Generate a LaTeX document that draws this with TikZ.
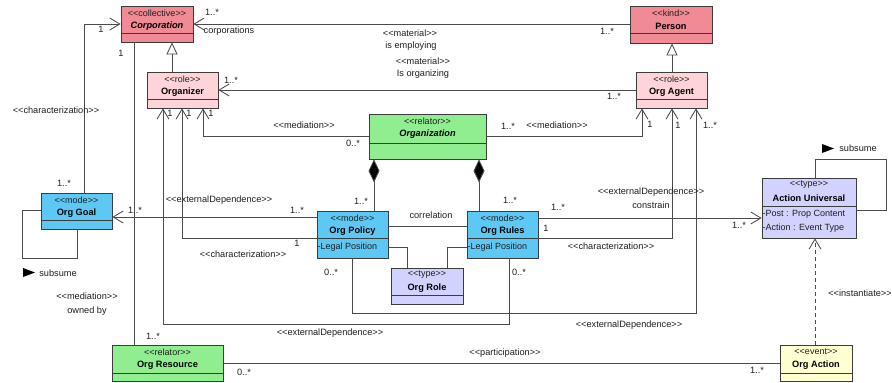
\documentclass[tikz,border=0pt]{standalone}
\usepackage{fontspec}
\newfontfamily\lib{Liberation Sans}
\usetikzlibrary{arrows.meta,fit}
\definecolor{salmonc}{RGB}{240,138,148}
\definecolor{pinkc}{RGB}{255,212,217}
\definecolor{greenc}{RGB}{144,238,144}
\definecolor{bluec}{RGB}{94,200,245}
\definecolor{lavc}{RGB}{210,210,255}
\definecolor{yellowc}{RGB}{255,255,210}
\definecolor{boxc}{RGB}{60,60,60}
\definecolor{linec}{RGB}{75,75,75}
\definecolor{txtc}{RGB}{30,30,30}
\newcommand\umlcls[9]{%
  \node[box, fill=#7, fit={(#2,#3)(#4,#5)}] (#1) {};
  \draw[box] (#1.west |- 0,#6) -- (#1.east |- 0,#6);
  \node[stt] (#1-st) at ({(#2+#4)/2},{#3+7}) {#8};
  \node[nmm] (#1-nm) at ({(#2+#4)/2},{#3+20}) {#9};
}
\begin{document}
\begin{tikzpicture}[x=1pt,y=-1pt,
  box/.style={draw=boxc, line width=0.8pt, inner sep=0pt},
  stt/.style={font=\lib\fontsize{9}{10}\selectfont, inner sep=0pt, text=txtc},
  nmm/.style={font=\lib\fontsize{9.2}{10}\selectfont\bfseries, inner sep=0pt, text=black},
  lbl/.style={font=\lib\fontsize{9.2}{10}\selectfont, inner sep=0pt, text=txtc},
  attr/.style={font=\lib\fontsize{9}{10}\selectfont, inner sep=0pt, anchor=west, text=txtc},
  conn/.style={draw=linec, line width=0.85pt},
  opn/.style={conn, -{Straight Barb[length=10pt,width=12pt]}},
  gen/.style={conn, -{Triangle[open,length=12pt,width=11pt,fill=white]}},
  comp/.style={conn, {Diamond[length=23pt,width=11pt,fill=black]}-},
]
\useasboundingbox (0,0) rectangle (892,383);

% classes
\umlcls{corp}{121}{6}{193}{42}{33}{salmonc}{<<collective>>}{\itshape Corporation}
\umlcls{person}{630}{6}{712}{43}{33}{salmonc}{<<kind>>}{Person}
\umlcls{organizer}{147}{72}{218}{108}{99}{pinkc}{<<role>>}{Organizer}
\umlcls{agent}{636}{72}{707}{108}{99}{pinkc}{<<role>>}{Org Agent}
\umlcls{organization}{369}{114}{486}{159}{143}{greenc}{<<relator>>}{\itshape Organization}
\umlcls{goal}{41}{193}{112}{229}{220}{bluec}{<<mode>>}{Org Goal}
\umlcls{policy}{317}{211}{388}{258}{238}{bluec}{<<mode>>}{Org Policy}
\umlcls{rules}{467}{211}{538}{258}{238}{bluec}{<<mode>>}{Org Rules}
\umlcls{role}{391}{268}{463}{304}{295}{lavc}{<<type>>}{Org Role}
\umlcls{actuniv}{762}{178}{856}{238}{206}{lavc}{<<type>>}{Action Universal}
\umlcls{resource}{112}{345}{223}{381}{373}{greenc}{<<relator>>}{Org Resource}
\umlcls{action}{780}{345}{852}{381}{373}{yellowc}{<<event>>}{Org Action}

\node[attr] (polattr) at (317.5,247) {-Legal Position};
\node[attr] (rulattr) at (467.5,247) {-Legal Position};
\node[attr] (au1) at (762.5,214) {-Post : Prop Content};
\node[attr] (au2) at (762.5,228) {-Action : Event Type};

% connectors
\draw[opn] (person.west |- corp.east) -- (corp.east);
\draw[opn] (agent.west) -- (agent.west -| organizer.east);
\draw[gen] (organizer.north -| 172,0) -- (corp.south -| 172,0);
\draw[gen] (agent.north -| 672,0) -- (person.south -| 672,0);
\draw[opn] (goal.north -| 84,0) |- (corp.west);
\draw[conn] (corp.south -| 134,0) -- (resource.north -| 134,0);
\draw[opn] (organization.west) -| (organizer.south -| 203,0);
\draw[opn] (policy.west |- 0,238) -| (organizer.south -| 182,0);
\draw[opn] (rules.south -| 509,0) -- ++(0,66) -| (organizer.south -| 163,0);
\draw[opn] (policy.south -| 352,0) -- ++(0,55) -| (agent.south -| 696,0);
\draw[opn] (organization.east) -| (agent.south -| 642,0);
\draw[opn] (rules.east |- 0,238) -| (agent.south -| 672,0);
\draw[opn] (rules.east |- 0,218) -- (actuniv.west |- 0,218);
\draw[comp] (organization.south -| 374,0) -- (policy.north -| 374,0);
\draw[comp] (organization.south -| 479,0) -- (rules.north -| 479,0);
\draw[opn] (policy.west |- 0,217) -- (goal.east |- 0,217);
\draw[conn] (policy.east |- 0,226) -- (rules.west |- 0,226);
\draw[conn] (policy.east |- 0,247) -| (role.north -| 407,0);
\draw[conn] (rules.west |- 0,247) -| (role.north -| 447,0);
\draw[conn] (goal.west |- 0,210) -| (22,258) -| (goal.south -| 77,0);
\draw[conn] (actuniv.north -| 815,0) |- (886,159) |- (actuniv.east |- 0,210);
\draw[opn, dash pattern=on 4pt off 3pt] (action.north -| 815,0) -- (actuniv.south -| 815,0);
\draw[conn] (resource.east) -- (action.west);

% subsume markers
\fill[black] (23,268) -- (35,272.5) -- (23,277) -- cycle;
\fill[black] (822,144) -- (834,148.5) -- (822,153) -- cycle;

% labels
\node[lbl] (l1) at (212,12) {1..*};
\node[lbl] (l2) at (229,31) {corporations};
\node[lbl] (l3) at (410,33) {<<material>>};
\node[lbl] (l4) at (411,46) {is employing};
\node[lbl] (l5) at (607,31) {1..*};
\node[lbl] (l6) at (231,80) {1..*};
\node[lbl] (l7) at (614,96) {1..*};
\node[lbl] (l8) at (423,61) {<<material>>};
\node[lbl] (l9) at (423,74) {Is organizing};
\node[lbl] (l10) at (101,29) {1};
\node[lbl] (l11) at (64,183) {1..*};
\node[lbl] (l12) at (56,110) {<<characterization>>};
\node[lbl] (l13) at (121,53) {1};
\node[lbl] (l14) at (153,336) {1..*};
\node[lbl] (l15) at (87,296) {<<mediation>>};
\node[lbl] (l16) at (87,311) {owned by};
\node[lbl] (l17) at (170,113) {1};
\node[lbl] (l18) at (189,113) {1};
\node[lbl] (l19) at (211,113) {1};
\node[lbl] (l20) at (304,125) {<<mediation>>};
\node[lbl] (l21) at (353,143) {0..*};
\node[lbl] (l22) at (297,243) {1};
\node[lbl] (l23) at (243,254) {<<characterization>>};
\node[lbl] (l24) at (519,272) {0..*};
\node[lbl] (l25) at (330,333) {<<externalDependence>>};
\node[lbl] (l26) at (331,272) {0..*};
\node[lbl] (l27) at (629,325) {<<externalDependence>>};
\node[lbl] (l28) at (710,125) {1..*};
\node[lbl] (l29) at (508,126) {1..*};
\node[lbl] (l30) at (557,125) {<<mediation>>};
\node[lbl] (l31) at (650,124) {1};
\node[lbl] (l32) at (546,228) {1};
\node[lbl] (l33) at (611,246) {<<characterization>>};
\node[lbl] (l34) at (678,125) {1};
\node[lbl] (l35) at (558,207) {1..*};
\node[lbl] (l36) at (739,225) {1..*};
\node[lbl] (l37) at (651,192) {<<externalDependence>>};
\node[lbl] (l38) at (651,205) {constrain};
\node[lbl] (l39) at (361,201) {1..*};
\node[lbl] (l40) at (510,200) {1..*};
\node[lbl] (l41) at (135,210) {1..*};
\node[lbl] (l42) at (297,210) {1..*};
\node[lbl] (l43) at (219,200) {<<externalDependence>>};
\node[lbl] (l44) at (431,215) {correlation};
\node[lbl] (l45) at (58,273) {subsume};
\node[lbl] (l46) at (858,148) {subsume};
\node[lbl] (l47) at (860,293) {<<instantiate>>};
\node[lbl] (l48) at (244,372) {0..*};
\node[lbl] (l49) at (757,370) {1..*};
\node[lbl] (l50) at (505,353) {<<participation>>};
\end{tikzpicture}
\end{document}
